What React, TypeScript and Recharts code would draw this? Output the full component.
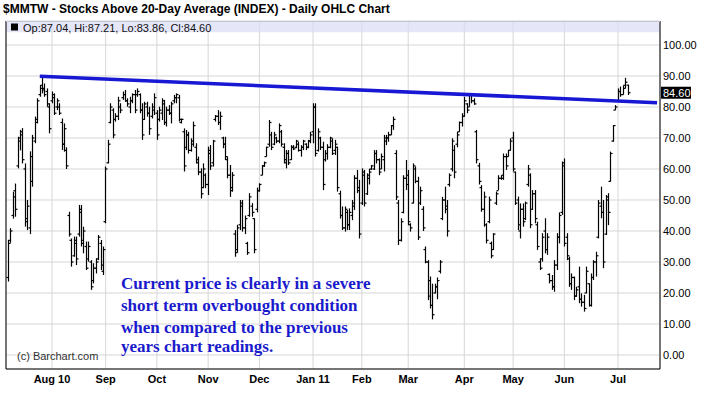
import React from "react"
import {
    ComposedChart,
    Bar,
    XAxis,
    YAxis,
    CartesianGrid,
    ReferenceLine,
    ReferenceArea,
} from "recharts"

// daily bars, Jul 7 2010 .. Jul 8 2011 (index = trading day)
const highs = [
    37.1, 40.9, 52.7, 55.3, 70.4, 72.6, 73.2, 61.8, 50.0, 65.7, 71.0, 76.9, 82.8, 87.1, 89.9, 87.6, 86.0, 81.2, 85.0, 84.4,
    82.8, 81.2, 76.3, 74.7, 67.0, 46.2, 37.6, 38.2, 38.2, 48.4, 48.4, 41.4, 36.6, 36.6, 30.6, 29.6, 31.2, 38.7, 37.1, 35.0,
    60.8, 69.4, 81.2, 79.6, 78.0, 83.3, 81.2, 85.0, 85.5, 82.8, 83.3, 84.4, 85.5, 86.0, 84.4, 81.2, 81.7, 81.7, 80.1, 81.2,
    84.4, 79.0, 80.1, 82.8, 82.3, 80.1, 80.6, 81.7, 83.9, 84.4, 83.9, 76.3, 73.1, 72.6, 72.0, 69.9, 75.3, 68.3, 64.0, 60.2,
    61.8, 58.6, 67.2, 67.7, 69.4, 77.4, 79.0, 78.5, 70.4, 70.4, 64.0, 61.3, 59.0, 40.3, 42.0, 50.0, 50.0, 45.0, 36.5, 52.2,
    49.0, 44.1, 54.0, 55.4, 61.3, 62.4, 67.2, 75.8, 72.0, 72.0, 70.4, 74.7, 72.6, 68.3, 66.1, 66.1, 67.7, 67.7, 69.4, 68.8,
    67.7, 69.4, 68.3, 69.4, 72.0, 81.2, 81.2, 73.1, 70.4, 68.8, 66.1, 68.0, 70.4, 69.9, 69.4, 67.2, 53.0, 47.9, 47.9, 46.8,
    47.3, 50.0, 58.0, 59.7, 56.5, 60.2, 59.7, 58.6, 60.0, 61.3, 66.1, 66.1, 63.4, 65.0, 71.0, 71.0, 72.0, 74.2, 76.9, 66.1,
    50.0, 44.1, 58.0, 62.9, 59.7, 42.5, 61.8, 60.8, 57.5, 54.3, 48.0, 35.0, 30.6, 25.3, 23.0, 23.0, 25.0, 30.6, 51.0, 54.3,
    50.0, 58.6, 69.9, 67.7, 72.0, 75.3, 78.0, 83.3, 81.2, 84.4, 84.4, 82.8, 72.6, 62.0, 54.8, 52.7, 42.5, 51.1, 36.6, 39.3,
    52.7, 58.0, 58.0, 65.0, 65.0, 66.1, 69.9, 72.0, 59.2, 51.1, 48.9, 48.9, 49.5, 61.3, 58.6, 53.2, 53.2, 43.0, 31.2, 39.3,
    44.1, 39.3, 26.3, 25.8, 30.6, 39.3, 46.0, 62.4, 63.4, 39.3, 31.7, 26.3, 25.3, 22.0, 28.5, 19.9, 19.4, 28.5, 23.1, 26.3,
    30.6, 33.3, 50.0, 54.3, 50.0, 51.6, 52.2, 65.6, 74.2, 80.6, 86.0, 86.6, 87.0, 89.4, 87.21,
]

const lows = [
    23.7, 36.2, 44.0, 44.6, 60.2, 66.0, 61.8, 41.4, 40.3, 39.0, 54.3, 68.3, 74.7, 83.3, 84.4, 83.3, 80.1, 71.5, 81.2, 77.4,
    79.0, 77.4, 66.1, 65.6, 60.0, 38.2, 28.5, 31.7, 29.0, 38.2, 35.0, 32.8, 27.4, 30.1, 21.0, 23.1, 26.3, 30.6, 27.4, 25.8,
    42.5, 61.8, 74.7, 69.9, 75.3, 75.8, 78.0, 82.3, 81.7, 80.1, 78.0, 81.2, 78.0, 83.3, 78.0, 69.4, 75.8, 76.9, 71.0, 76.3,
    77.4, 69.4, 75.3, 75.8, 74.2, 73.7, 77.4, 74.7, 81.2, 81.2, 75.3, 74.7, 59.2, 66.1, 65.0, 65.6, 67.2, 61.8, 58.0, 50.5,
    53.8, 53.8, 51.6, 59.7, 60.8, 75.3, 74.2, 72.6, 66.7, 62.9, 57.0, 51.0, 52.7, 31.7, 33.0, 40.3, 39.8, 39.0, 32.3, 44.6,
    44.6, 32.8, 46.0, 52.7, 58.0, 60.7, 64.0, 67.2, 66.1, 67.7, 68.3, 68.3, 67.2, 61.8, 60.2, 61.3, 62.9, 66.1, 66.7, 65.6,
    64.0, 66.1, 66.1, 66.7, 68.3, 68.3, 64.0, 65.6, 66.1, 53.2, 62.4, 63.0, 66.7, 64.5, 64.5, 52.7, 44.0, 40.3, 39.8, 40.3,
    40.3, 43.5, 46.8, 52.2, 37.6, 48.4, 47.9, 51.6, 55.0, 59.7, 59.7, 61.8, 58.0, 60.0, 59.2, 67.7, 68.8, 71.0, 72.6, 50.0,
    35.5, 36.6, 45.7, 53.2, 41.9, 39.8, 48.9, 55.4, 37.1, 48.4, 40.0, 29.6, 17.7, 15.0, 11.5, 19.9, 18.0, 26.3, 43.5, 45.7,
    38.2, 54.3, 59.2, 57.0, 67.0, 72.0, 73.7, 76.9, 78.0, 80.1, 81.2, 80.7, 61.8, 55.0, 46.2, 41.4, 36.0, 42.5, 31.2, 33.9,
    48.4, 53.2, 56.5, 56.5, 59.7, 64.0, 66.1, 59.2, 48.4, 40.3, 37.6, 41.4, 43.5, 54.3, 40.9, 46.8, 42.5, 33.9, 27.4, 30.1,
    32.8, 32.3, 23.1, 21.0, 20.4, 27.4, 36.0, 45.2, 35.0, 30.6, 22.0, 21.0, 17.7, 18.8, 16.7, 15.6, 14.0, 19.9, 15.6, 15.6,
    24.2, 25.3, 37.6, 44.1, 28.0, 38.7, 41.9, 55.9, 68.8, 79.0, 81.6, 83.3, 84.0, 86.0, 83.86,
]

const opens = [
    25, 37, 45, 53, 61, 70, 72, 60, 44, 41, 56, 69, 76, 84, 87, 86, 85, 80, 82, 83,
    80, 80, 75, 68, 66, 45, 37, 32, 36, 39, 46, 37, 35, 31, 30, 24, 28, 31, 36, 27,
    43, 62, 75, 79, 76, 77, 80, 83, 84, 82, 80, 82, 84, 84, 84, 79, 76, 80, 78, 77,
    79, 78, 76, 78, 81, 75, 79, 78, 82, 83, 83, 75, 72, 67, 71, 66, 68, 67, 62, 59,
    54, 58, 55, 65, 62, 76, 77, 75, 70, 68, 63, 58, 54, 39, 34, 42, 48, 41, 36, 45,
    48, 44, 47, 53, 58, 61, 64, 68, 71, 68, 70, 69, 72, 67, 62, 65, 63, 67, 67, 68,
    66, 67, 68, 67, 69, 72, 80, 66, 70, 67, 63, 65, 67, 69, 66, 67, 52, 45, 41, 46,
    42, 45, 48, 57, 54, 49, 58, 52, 57, 60, 60, 65, 63, 60, 63, 69, 70, 71, 74, 65,
    49, 37, 46, 57, 58, 42, 49, 60, 56, 49, 47, 34, 30, 24, 16, 20, 22, 27, 44, 50,
    48, 55, 60, 66, 68, 72, 75, 77, 81, 80, 84, 82, 72, 61, 54, 47, 42, 43, 36, 34,
    49, 53, 57, 57, 64, 64, 66, 70, 59, 50, 40, 47, 44, 55, 58, 47, 52, 42, 30, 31,
    40, 34, 26, 24, 22, 29, 38, 46, 62, 38, 31, 23, 25, 19, 22, 18, 17, 20, 23, 16,
    25, 30, 38, 48, 46, 39, 50, 56, 69, 79, 82, 85, 84, 87, 87.04,
]

const closes = [
    36, 40, 51, 47, 69, 71, 63, 43, 48, 64, 70, 75, 82, 86, 85.5, 84, 81, 73, 84, 78,
    82, 78, 68, 73, 61, 39, 30, 37, 31, 47, 36, 40, 28, 35, 22, 28, 30, 38, 29, 34,
    60, 68, 80, 71, 77, 82, 79, 84, 82, 81, 82, 84, 79, 85, 79, 71, 81, 78, 73, 80,
    83, 71, 79, 82, 75, 79, 78, 81, 83, 84, 76, 76, 61, 71, 66, 69, 74, 63, 59, 52,
    60, 55, 66, 61, 69, 77, 75, 77, 68, 64, 58, 53, 58, 33, 41, 49, 41, 44, 33, 51,
    46, 34, 53, 55, 61, 62, 67, 75, 67, 71, 69, 74, 68, 63, 65, 62, 67, 66.5, 69, 66,
    67, 69, 67, 69, 71, 80, 65, 72, 67, 55, 65, 67, 70, 65, 68, 54, 45, 41, 47, 42,
    46, 49, 57, 53, 39, 59, 49, 58, 59, 61, 65, 63, 59, 64, 70, 70, 71, 74, 76, 51,
    37, 43, 57, 55, 43, 41, 61, 56, 38, 53, 41, 30, 19, 16, 13, 22, 24, 30, 50, 47,
    40, 58, 69, 59, 71, 75, 77, 82, 79, 84, 82, 81, 63, 56, 47, 51, 37, 50, 32, 39,
    52, 57, 58, 64, 61, 66, 69, 60, 49, 42, 47, 43, 49, 60, 42, 52, 44, 35, 28, 38,
    34, 38, 24, 22, 29, 38, 45, 61, 36, 32, 23, 25, 19, 21, 18, 17, 15, 27, 16, 25,
    30, 32, 49, 46, 30, 51, 46, 65, 74, 80, 85, 84, 86, 88, 84.60,
]

const monthTicks = [18, 40, 61, 82, 103, 125, 145, 164, 187, 207, 228, 250]
const monthLabels = ["Aug 10", "Sep", "Oct", "Nov", "Dec", "Jan 11", "Feb", "Mar", "Apr", "May", "Jun", "Jul"]
const priceTicks = [0, 10, 20, 30, 40, 50, 60, 70, 80, 90, 100]

const trendFrom = { i: 13, v: 89.9 }
const trendTo = { i: 266, v: 81.4 }

const noteLines = [
    "Current price is clearly in a severe",
    "short term overbought condition",
    "when compared to the previous",
    "years chart readings.",
]

const data = highs.map((h, i) => ({
    i,
    range: [lows[i], h],
    high: h,
    low: lows[i],
    open: opens[i],
    close: closes[i],
}))

const last = data.length - 1
const xMin = -0.85
const xMax = 267.2
const yMin = -4.52
const yMax = 107.74

const sans = "'Liberation Sans', Arial, sans-serif"

function OhlcBar(props: any) {
    const { x, y, width, height, payload } = props
    const top = Math.min(y, y + height)
    const bot = Math.max(y, y + height)
    const cx = Math.round(x + width / 2) + 0.5
    const span = payload.high - payload.low || 1
    const toY = (v: number) => top + ((payload.high - v) / span) * (bot - top)
    const yo = toY(payload.open)
    const yc = toY(payload.close)
    return (
        <g stroke="#000" strokeWidth={1.2}>
            <line x1={cx} x2={cx} y1={top} y2={bot} />
            <line x1={cx - 2} x2={cx} y1={yo} y2={yo} />
            <line x1={cx} x2={cx + 2} y1={yc} y2={yc} />
        </g>
    )
}

function PriceTag(props: any) {
    const vb = props.viewBox
    const x = vb.x + vb.width + 1
    return (
        <g>
            <rect x={x} y={vb.y - 6} width={30} height={12} fill="#000" />
            <text x={x + 2} y={vb.y + 4} fill="#fff" fontSize={11} fontFamily={sans}>
                {closes[last].toFixed(2)}
            </text>
        </g>
    )
}

export default function App() {
    return (
        <div style={{ position: "absolute", left: 0, top: 0, width: 706, height: 398, background: "#fff" }}>
            <ComposedChart
                width={706}
                height={398}
                data={data}
                margin={{ top: 21, right: 0, bottom: 0, left: 6 }}
            >
                <ReferenceArea
                    x1={xMin}
                    x2={xMax}
                    y1={104.1}
                    y2={yMax}
                    fill="#dcdcf6"
                    fillOpacity={0.7}
                    stroke="none"
                />
                <CartesianGrid stroke="#d6d6d6" />
                <XAxis
                    dataKey="i"
                    type="number"
                    domain={[xMin, xMax]}
                    ticks={monthTicks}
                    tickFormatter={(v: number) => monthLabels[monthTicks.indexOf(v)]}
                    height={29}
                    axisLine={{ stroke: "#000" }}
                    tickLine={false}
                    tickSize={5}
                    tickMargin={1}
                    tick={{ fill: "#000", fontSize: 11, fontWeight: "bold", fontFamily: sans }}
                    allowDataOverflow
                />
                <YAxis
                    orientation="right"
                    width={46}
                    domain={[yMin, yMax]}
                    ticks={priceTicks}
                    tickFormatter={(v: number) => v.toFixed(2)}
                    axisLine={{ stroke: "#000" }}
                    tickLine={false}
                    tickSize={3}
                    tickMargin={0}
                    tick={{ fill: "#000", fontSize: 11, fontFamily: sans, textAnchor: "start" }}
                    allowDataOverflow
                />
                <ReferenceLine x={xMin} stroke="#000" />
                <Bar
                    dataKey="range"
                    barSize={2}
                    shape={OhlcBar}
                    isAnimationActive={false}
                />
                <ReferenceLine
                    segment={[
                        { x: trendFrom.i, y: trendFrom.v },
                        { x: trendTo.i, y: trendTo.v },
                    ]}
                    stroke="#1818d4"
                    strokeWidth={3.5}
                />
                <ReferenceLine y={closes[last]} stroke="none" label={{ content: PriceTag }} />
            </ComposedChart>
            <svg
                width={706}
                height={398}
                style={{ position: "absolute", left: 0, top: 0, pointerEvents: "none" }}
            >
                <text x={3} y={13} fontSize={12} fontWeight="bold" fontFamily={sans} fill="#000">
                    $MMTW - Stocks Above 20-Day Average (INDEX) - Daily OHLC Chart
                </text>
                <line x1={6} x2={660} y1={21.5} y2={21.5} stroke="#c4c4d4" />
                <rect x={11} y={23.5} width={7} height={7} fill="#000" />
                <text x={23} y={31.5} fontSize={11} fontFamily={sans} fill="#111">
                    {`Op:${opens[last].toFixed(2)}, Hi:${highs[last].toFixed(2)}, Lo:${lows[last].toFixed(2)}, Cl:${closes[last].toFixed(2)}`}
                </text>
                <text x={17} y={360} fontSize={11} fontFamily={sans} fill="#333">
                    (c) Barchart.com
                </text>
                {noteLines.map((t, k) => (
                    <text
                        key={k}
                        x={121}
                        y={[288.5, 311, 332.5, 352][k]}
                        fontSize={17}
                        fontWeight="bold"
                        fontFamily="'Liberation Serif', 'Times New Roman', serif"
                        fill="#1a1acc"
                    >
                        {t}
                    </text>
                ))}
            </svg>
        </div>
    )
}
